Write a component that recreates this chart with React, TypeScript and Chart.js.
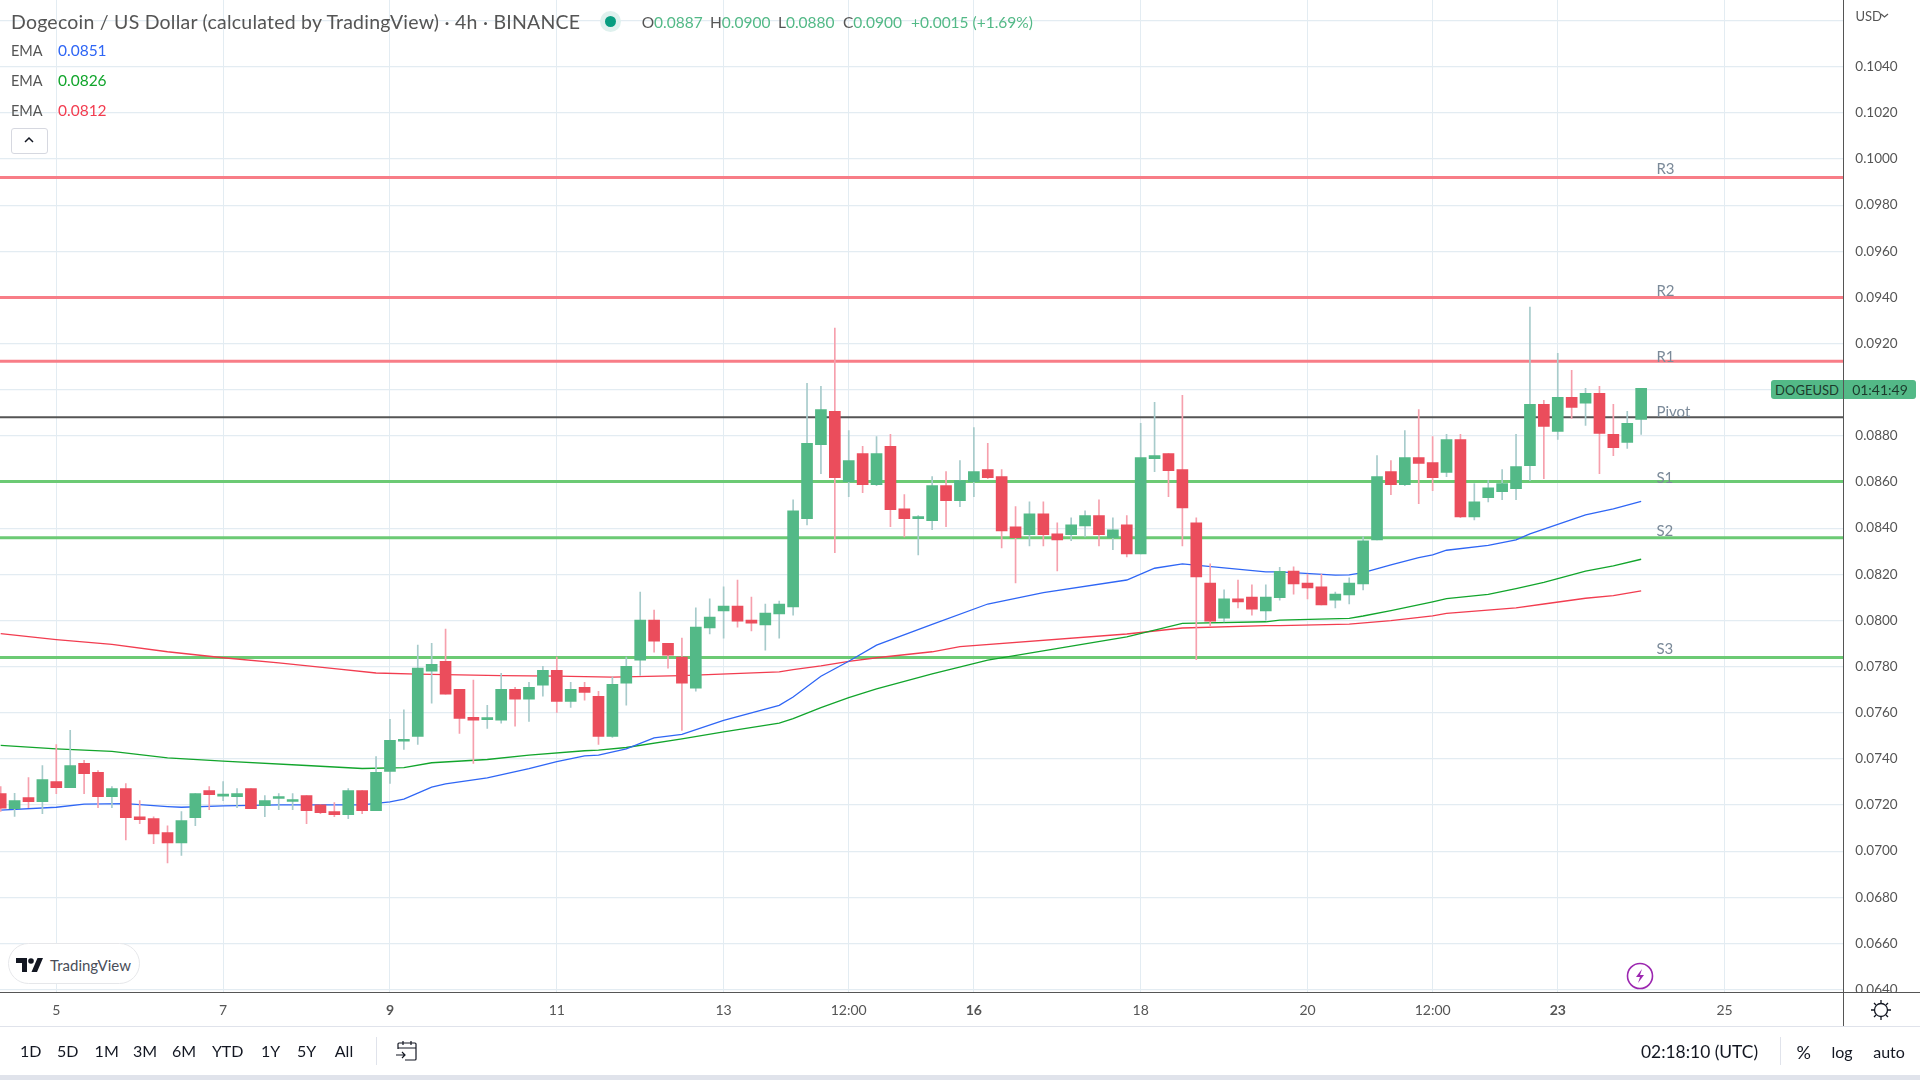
import { useEffect, useRef } from "react";
import { Chart, registerables } from "chart.js";

Chart.register(...registerables);

// 4h candles
const opens = [
  0.07249, 0.07184, 0.07232, 0.07214, 0.07301, 0.07275, 0.0738, 0.07341, 0.07236, 0.07271,
  0.07149, 0.07141, 0.0708, 0.07036, 0.07145, 0.07262, 0.07238, 0.07236, 0.07271, 0.07197,
  0.07228, 0.07215, 0.07241, 0.07201, 0.07171, 0.07158, 0.07262, 0.07175, 0.07345, 0.07476,
  0.07497, 0.0778, 0.07823, 0.07701, 0.0758, 0.0757, 0.07567, 0.07701, 0.07658, 0.07719,
  0.07784, 0.07649, 0.0771, 0.07671, 0.07497, 0.07728, 0.07828, 0.08001, 0.07901, 0.07841,
  0.07706, 0.07967, 0.08041, 0.08062, 0.08001, 0.0798, 0.08028, 0.08058, 0.08441, 0.08762,
  0.08906, 0.08601, 0.08723, 0.08588, 0.08754, 0.08484, 0.08441, 0.08432, 0.08584, 0.08519,
  0.08601, 0.08654, 0.08623, 0.08406, 0.08371, 0.08462, 0.08375, 0.08371, 0.0841, 0.08454,
  0.08358, 0.08414, 0.08288, 0.08701, 0.08723, 0.08654, 0.08423, 0.08162, 0.0801, 0.08093,
  0.08101, 0.08041, 0.08099, 0.08214, 0.08162, 0.08145, 0.08088, 0.0811, 0.08158, 0.08349,
  0.08645, 0.08588, 0.08706, 0.08684, 0.08641, 0.08784, 0.08449, 0.08532, 0.08558, 0.08571,
  0.08671, 0.08936, 0.08819, 0.08967, 0.08941, 0.08984, 0.08806, 0.08771, 0.08871,
];
const highs = [
  0.0728, 0.0725, 0.07319, 0.07371, 0.07462, 0.07523, 0.07393, 0.07349, 0.0728, 0.07293,
  0.07219, 0.07149, 0.0711, 0.07171, 0.07249, 0.0728, 0.07301, 0.07271, 0.07271, 0.07241,
  0.07249, 0.07249, 0.07241, 0.07201, 0.0721, 0.07271, 0.07262, 0.0741, 0.07571, 0.07612,
  0.07893, 0.07901, 0.07962, 0.07701, 0.07741, 0.07632, 0.07771, 0.0771, 0.07732, 0.07801,
  0.07841, 0.07732, 0.07732, 0.07693, 0.07754, 0.07841, 0.08123, 0.08045, 0.07901, 0.07923,
  0.08054, 0.08093, 0.08145, 0.08175, 0.08101, 0.08071, 0.08084, 0.08523, 0.09028, 0.09014,
  0.09267, 0.08823, 0.08754, 0.08797, 0.08806, 0.08545, 0.08454, 0.08623, 0.08645, 0.08693,
  0.08836, 0.08767, 0.08654, 0.08493, 0.08514, 0.08514, 0.08423, 0.08445, 0.08475, 0.08523,
  0.08445, 0.08454, 0.08854, 0.08945, 0.08723, 0.08975, 0.08445, 0.08245, 0.08132, 0.08175,
  0.08154, 0.08154, 0.0823, 0.08232, 0.08201, 0.08201, 0.08123, 0.08184, 0.08362, 0.08714,
  0.08693, 0.08823, 0.08914, 0.08797, 0.08806, 0.08806, 0.08593, 0.08606, 0.08654, 0.08806,
  0.09358, 0.08954, 0.09158, 0.09084, 0.09006, 0.09014, 0.08936, 0.08906, 0.09006,
];
const lows = [
  0.07172, 0.0715, 0.07188, 0.07162, 0.07249, 0.07275, 0.07249, 0.07188, 0.07188, 0.07049,
  0.07119, 0.07032, 0.06949, 0.06981, 0.0711, 0.0718, 0.07219, 0.07188, 0.07184, 0.07149,
  0.0718, 0.0718, 0.07119, 0.07162, 0.07149, 0.07141, 0.07162, 0.07175, 0.07293, 0.07441,
  0.07462, 0.07641, 0.0768, 0.0751, 0.0738, 0.07532, 0.07554, 0.07541, 0.07562, 0.07671,
  0.07601, 0.07623, 0.07654, 0.07462, 0.07493, 0.07632, 0.07762, 0.07862, 0.07793, 0.07523,
  0.07693, 0.07941, 0.07923, 0.07971, 0.07954, 0.07871, 0.07923, 0.08023, 0.08414, 0.08636,
  0.08293, 0.08536, 0.08554, 0.08584, 0.08406, 0.08362, 0.08284, 0.08393, 0.08406, 0.08493,
  0.08536, 0.08614, 0.08314, 0.08162, 0.08323, 0.08323, 0.08214, 0.08345, 0.08362, 0.08323,
  0.08306, 0.08275, 0.08288, 0.08645, 0.08536, 0.08323, 0.0783, 0.07975, 0.07993, 0.08054,
  0.08023, 0.08001, 0.08088, 0.08114, 0.08093, 0.08067, 0.08054, 0.08071, 0.08132, 0.08349,
  0.08545, 0.08584, 0.08506, 0.08562, 0.08623, 0.08445, 0.08436, 0.08514, 0.08523, 0.08523,
  0.08606, 0.08614, 0.08784, 0.08875, 0.08845, 0.08636, 0.08714, 0.08745, 0.08806,
];
const closes = [
  0.07186, 0.07219, 0.07214, 0.0731, 0.07275, 0.07371, 0.07336, 0.07236, 0.07271, 0.07145,
  0.07136, 0.07075, 0.07036, 0.07132, 0.07249, 0.07245, 0.07241, 0.07249, 0.07184, 0.07219,
  0.07231, 0.07218, 0.07175, 0.07167, 0.07158, 0.07262, 0.07175, 0.07341, 0.0748, 0.07478,
  0.07793, 0.0781, 0.0768, 0.07575, 0.07567, 0.07572, 0.07701, 0.07658, 0.0771, 0.07784,
  0.07649, 0.07701, 0.07688, 0.07497, 0.07723, 0.07801, 0.08001, 0.0791, 0.07849, 0.07728,
  0.07971, 0.08014, 0.08062, 0.07997, 0.07988, 0.08032, 0.08071, 0.08475, 0.08767, 0.08914,
  0.08619, 0.08693, 0.08588, 0.08723, 0.0848, 0.08441, 0.08444, 0.08584, 0.08519, 0.08606,
  0.08645, 0.08619, 0.08388, 0.08358, 0.08462, 0.08371, 0.08349, 0.08414, 0.08454, 0.08371,
  0.08393, 0.08288, 0.08706, 0.08714, 0.08649, 0.08488, 0.08188, 0.07997, 0.08093, 0.0808,
  0.08049, 0.08101, 0.08213, 0.08158, 0.08141, 0.08067, 0.08114, 0.08162, 0.08345, 0.08623,
  0.08588, 0.08706, 0.0868, 0.08619, 0.08784, 0.08449, 0.08514, 0.08575, 0.08593, 0.08667,
  0.08936, 0.08841, 0.08967, 0.08923, 0.08984, 0.0881, 0.08749, 0.08854, 0.09006,
];

// EMA readings, taken at the candles listed next to them
const blueAt = [0, 4, 6, 9, 12, 13, 16, 20, 26, 28, 29, 31, 32, 35, 38, 40, 42, 43, 45, 47, 49, 52, 56, 57, 59, 61, 63, 67, 71, 75, 81, 83, 85, 91, 92, 96, 97, 98, 100, 102, 103, 104, 107, 109, 110, 111, 114, 116, 118];
const blueEma = [0.07178, 0.0719, 0.07204, 0.07206, 0.07193, 0.0719, 0.07196, 0.072, 0.072, 0.07213, 0.07225, 0.07277, 0.07291, 0.07317, 0.07357, 0.07388, 0.07413, 0.07416, 0.07443, 0.07491, 0.07506, 0.07567, 0.07632, 0.07668, 0.07758, 0.07823, 0.07893, 0.07983, 0.08071, 0.0812, 0.08175, 0.08226, 0.08245, 0.0821, 0.0821, 0.08196, 0.08197, 0.08207, 0.08241, 0.08272, 0.08284, 0.08304, 0.08325, 0.08349, 0.08375, 0.08396, 0.08457, 0.08483, 0.08516];
const greenAt = [0, 4, 8, 12, 16, 22, 26, 29, 31, 35, 38, 42, 43, 45, 49, 52, 56, 57, 59, 61, 63, 67, 71, 81, 85, 91, 92, 97, 98, 100, 103, 104, 107, 109, 111, 114, 116, 118];
const greenEma = [0.07458, 0.07443, 0.07432, 0.07404, 0.0739, 0.07371, 0.07358, 0.07362, 0.07383, 0.07397, 0.07416, 0.07435, 0.07438, 0.07449, 0.07486, 0.07517, 0.07555, 0.07574, 0.07622, 0.07665, 0.07703, 0.07768, 0.07828, 0.07929, 0.07987, 0.07994, 0.08001, 0.08009, 0.08019, 0.08042, 0.0808, 0.08094, 0.08113, 0.08138, 0.08165, 0.08214, 0.08236, 0.08265];
const redAt = [0, 4, 8, 12, 16, 20, 24, 27, 30, 36, 40, 44, 49, 56, 57, 59, 61, 63, 67, 69, 81, 85, 91, 92, 97, 100, 103, 104, 109, 111, 114, 116, 118];
const redEma = [0.07943, 0.07917, 0.07896, 0.07864, 0.07838, 0.07816, 0.07791, 0.07772, 0.07767, 0.07761, 0.07758, 0.07754, 0.07761, 0.07777, 0.07787, 0.07803, 0.07822, 0.07838, 0.07864, 0.07886, 0.07941, 0.07967, 0.07977, 0.07977, 0.07984, 0.07999, 0.0802, 0.0803, 0.08054, 0.08071, 0.08096, 0.08107, 0.08128];

const levelNames = ["R3", "R2", "R1", "Pivot", "S1", "S2", "S3"];
const levelPrices = [0.0992, 0.094, 0.09123, 0.08881, 0.08602, 0.08358, 0.07839];
const levelColors = ["#f87d87", "#f87d87", "#f87d87", "#555555", "#6cca74", "#6cca74", "#6cca74"];
const levelWidths = [3, 3, 3, 2, 3, 3, 3];
const levelLabelLift = [8, 6.5, 4.5, 5, 3.7, 6.5, 8];

const priceTicks = [0.064, 0.066, 0.068, 0.07, 0.072, 0.074, 0.076, 0.078, 0.08, 0.082, 0.084, 0.086, 0.088, 0.09, 0.092, 0.094, 0.096, 0.098, 0.1, 0.102, 0.104, 0.106];
const timeTickAt = [4, 16, 28, 40, 52, 61, 70, 82, 94, 103, 112, 124];
const timeTickLabels = ["5", "7", "9", "11", "13", "12:00", "16", "18", "20", "12:00", "23", "25"];
const boldTicks = ["9", "16", "23"];

const rangeButtons = ["1D", "5D", "1M", "3M", "6M", "YTD", "1Y", "5Y", "All"];
const rangeCenters = [30.7, 67.7, 106.7, 145, 184, 227.7, 270.7, 306.7, 344];

const FONT = "Lato, sans-serif";
const UP = "#53b987";
const DOWN = "#eb4d5c";

const levelLabels = {
  id: "levelLabels",
  afterDatasetsDraw(chart: any) {
    const { ctx, scales } = chart;
    ctx.save();
    ctx.font = `15px ${FONT}`;
    ctx.fillStyle = "#7b8a99";
    ctx.textBaseline = "middle";
    levelNames.forEach((name, i) => {
      ctx.fillText(name, scales.x.getPixelForValue(119.1), scales.y.getPixelForValue(levelPrices[i]) - levelLabelLift[i]);
    });
    ctx.restore();
  },
};

function Txt({ x, y, color = "#555", size = 15, center = false, spacing = 0, children }: any) {
  return (
    <div
      style={{
        position: "absolute",
        left: x,
        top: y,
        transform: center ? "translate(-50%, -50%)" : "translateY(-50%)",
        color,
        fontSize: size,
        letterSpacing: spacing,
        whiteSpace: "nowrap",
        lineHeight: 1,
      }}
    >
      {children}
    </div>
  );
}

function Box({ x, y, w, h, style }: any) {
  return <div style={{ position: "absolute", left: x, top: y, width: w, height: h, ...style }} />;
}

export default function App() {
  const canvasRef = useRef<HTMLCanvasElement>(null);

  useEffect(() => {
    if (!canvasRef.current) return;
    const up = opens.map((o, i) => closes[i] >= o);
    const chart = new Chart(canvasRef.current, {
      type: "line",
      data: {
        datasets: [
          {
            type: "bar",
            data: opens.map((o, i) => ({ x: i, y: [o, closes[i]] })),
            backgroundColor: up.map((u) => (u ? UP : DOWN)),
            barThickness: 11,
            minBarLength: 2,
            grouped: false,
            order: 1,
          },
          {
            type: "bar",
            data: lows.map((l, i) => ({ x: i, y: [l, highs[i]] })),
            backgroundColor: up.map((u) => (u ? "#a7cbcb" : "#f6a0ad")),
            barThickness: 1,
            grouped: false,
            order: 2,
          },
          ...[
            { at: blueAt, values: blueEma, color: "#2f66f5" },
            { at: greenAt, values: greenEma, color: "#12a52c" },
            { at: redAt, values: redEma, color: "#f23d50" },
          ].map((s) => ({
            type: "line",
            data: s.at.map((x, i) => ({ x, y: s.values[i] })),
            borderColor: s.color,
            borderWidth: 1.3,
            pointRadius: 0,
            tension: 0,
            order: 3,
          })),
          ...levelPrices.map((p, i) => ({
            type: "line",
            data: [
              { x: -0.05, y: p },
              { x: 132.54, y: p },
            ],
            borderColor: levelColors[i],
            borderWidth: levelWidths[i],
            pointRadius: 0,
            order: 4,
          })),
        ] as any,
      },
      options: {
        responsive: false,
        animation: false,
        events: [],
        layout: { autoPadding: false, padding: { bottom: 54 } },
        plugins: { legend: { display: false }, tooltip: { enabled: false } },
        scales: {
          x: {
            type: "linear",
            min: -0.05,
            max: 132.54,
            offset: false,
            afterBuildTicks: (scale: any) => {
              scale.ticks = timeTickAt.map((value) => ({ value }));
            },
            afterFit: (scale: any) => {
              scale.height = 33.7;
              scale.paddingLeft = scale.paddingRight = 0;
            },
            grid: { color: "#e3ecf2", lineWidth: 1, drawTicks: false, offset: false },
            border: { display: false },
            ticks: {
              autoSkip: false,
              maxRotation: 0,
              padding: 10,
              color: "#555555",
              font: (ctx: any) => {
                const label = timeTickLabels[timeTickAt.indexOf(ctx.tick?.value)];
                return { family: FONT, size: 14, weight: boldTicks.includes(label) ? 700 : 400 };
              },
              callback: (value: any) => timeTickLabels[timeTickAt.indexOf(value)],
            },
          },
          y: {
            position: "right",
            min: 0.06388,
            max: 0.10689,
            afterBuildTicks: (scale: any) => {
              scale.ticks = priceTicks.map((value) => ({ value }));
            },
            afterFit: (scale: any) => {
              scale.width = 76.7;
              scale.paddingTop = scale.paddingBottom = 0;
            },
            grid: { color: "#e3ecf2", lineWidth: 1.2, drawTicks: false },
            border: { display: false },
            ticks: {
              padding: 12,
              color: "#555555",
              font: { family: FONT, size: 13.5 },
              callback: (value: any) => (value > 0.105 ? "" : Number(value).toFixed(4)),
            },
          },
        },
      },
      plugins: [levelLabels],
    });
    return () => chart.destroy();
  }, []);

  const ohlcLetters = [
    { x: 641.7, letter: "O", value: "0.0887" },
    { x: 710, letter: "H", value: "0.0900" },
    { x: 778, letter: "L", value: "0.0880" },
    { x: 843, letter: "C", value: "0.0900" },
  ];
  const emaRows = [
    { y: 51, value: "0.0851", color: "#2f66f5" },
    { y: 81, value: "0.0826", color: "#12a52c" },
    { y: 110.7, value: "0.0812", color: "#f23d50" },
  ];

  return (
    <div style={{ position: "fixed", left: 0, top: 0, width: 1920, height: 1080, overflow: "hidden", background: "#fff", fontFamily: FONT }}>
      <canvas ref={canvasRef} width={1920} height={1080} style={{ display: "block", position: "absolute", left: 0, top: 0 }} />

      {/* axis lines and the corner over the bottom price tick */}
      <Box x={1844} y={993} w={76} h={33} style={{ background: "#fff" }} />
      <Box x={0} y={992} w={1920} h={1.3} style={{ background: "#555" }} />
      <Box x={1843} y={0} w={1.3} h={1026} style={{ background: "#555" }} />
      <Box x={0} y={1026} w={1920} h={1} style={{ background: "#e0e3eb" }} />
      <Box x={0} y={1075} w={1920} h={5} style={{ background: "#e0e3eb" }} />

      {/* header */}
      <Txt x={11} y={21.5} size={19.5} spacing={0.23}>
        Dogecoin / US Dollar (calculated by TradingView) · 4h · BINANCE
      </Txt>
      <Box x={600} y={11} w={21} h={21} style={{ borderRadius: "50%", background: "#dff1ee" }} />
      <Box x={605} y={16} w={11} h={11} style={{ borderRadius: "50%", background: "#089d80" }} />
      {ohlcLetters.map((o) => (
        <Txt key={o.letter} x={o.x} y={22.5} size={15.5}>
          {o.letter}
          <span style={{ color: UP }}>{o.value}</span>
        </Txt>
      ))}
      <Txt x={911} y={22.5} size={15.5} color={UP}>
        +0.0015 (+1.69%)
      </Txt>
      {emaRows.map((r) => (
        <div key={r.y}>
          <Txt x={11} y={r.y} size={14.5}>EMA</Txt>
          <Txt x={58} y={r.y} size={15.5} color={r.color}>{r.value}</Txt>
        </div>
      ))}
      <Box x={11} y={128} w={35} h={24} style={{ border: "1px solid #d6d8e0", borderRadius: 3, background: "#fff" }} />
      <svg style={{ position: "absolute", left: 23, top: 136 }} width={12} height={8} viewBox="0 0 12 8">
        <path d="M2 6 L6 2 L10 6" fill="none" stroke="#131722" strokeWidth={1.5} />
      </svg>

      {/* price axis extras */}
      <Txt x={1855.5} y={16} size={13}>USD</Txt>
      <svg style={{ position: "absolute", left: 1880, top: 12 }} width={9} height={7} viewBox="0 0 9 7">
        <path d="M1 2 L4.5 5 L8 2" fill="none" stroke="#555" strokeWidth={1.2} />
      </svg>
      <Box x={1771} y={380} w={72} h={19} style={{ background: UP, borderRadius: "3px 0 0 3px" }} />
      <Box x={1844.3} y={380} w={71.7} h={19} style={{ background: UP, borderRadius: "0 3px 3px 0" }} />
      <Txt x={1807} y={389.5} size={13} center color="#1c3a2c">DOGEUSD</Txt>
      <Txt x={1880} y={389.5} size={14} center color="#1c3a2c">01:41:49</Txt>

      {/* TradingView badge */}
      <Box x={8} y={943} w={132} h={41} style={{ border: "1px solid #e6e7ea", borderRadius: 21, background: "#fff", boxSizing: "border-box" }} />
      <svg style={{ position: "absolute", left: 16, top: 958 }} width={27} height={14} viewBox="0 0 27 14">
        <path d="M0 0 H11 V14 H6 V5 H0 Z M27 0 L21 14 H15.5 L21.5 0 Z" fill="#131722" />
        <circle cx={15} cy={3} r={2.8} fill="#131722" />
      </svg>
      <Txt x={50} y={965} size={15} color="#4a4e59">TradingView</Txt>

      {/* lightning marker */}
      <svg style={{ position: "absolute", left: 1626, top: 962 }} width={28} height={28} viewBox="0 0 28 28">
        <circle cx={14} cy={14} r={12.5} fill="#fff" stroke="#9c27b0" strokeWidth={1.6} />
        <path d="M16 7 L10 15 H14 L12 21 L18 13 H14 Z" fill="#9c27b0" />
      </svg>

      {/* settings icon */}
      <svg style={{ position: "absolute", left: 1870, top: 999 }} width={22} height={22} viewBox="0 0 22 22">
        <circle cx={11} cy={11} r={6.5} fill="none" stroke="#131722" strokeWidth={1.3} />
        <path d="M11 1 V4 M11 18 V21 M1 11 H4 M18 11 H21 M4 4 L6 6 M16 16 L18 18 M18 4 L16 6 M4 18 L6 16" stroke="#131722" strokeWidth={1.3} />
      </svg>

      {/* bottom toolbar */}
      {rangeButtons.map((b, i) => (
        <Txt key={b} x={rangeCenters[i]} y={1050.7} size={16} center color="#131722">{b}</Txt>
      ))}
      <Box x={375.5} y={1037} w={1} h={28} style={{ background: "#e0e3eb" }} />
      <svg style={{ position: "absolute", left: 395, top: 1039 }} width={24} height={24} viewBox="0 0 24 24">
        <path d="M3 10 V5 Q3 4 4 4 H20 Q21 4 21 5 V20 Q21 21 20 21 H10 M3 9 H21 M8 2 V6 M16 2 V6 M1 16 H10 M7 13 L10 16 L7 19" fill="none" stroke="#131722" strokeWidth={1.2} />
      </svg>
      <Txt x={1641} y={1051.5} size={17.4} color="#131722">02:18:10 (UTC)</Txt>
      <Box x={1779.5} y={1037} w={1} h={28} style={{ background: "#e0e3eb" }} />
      <Txt x={1803.7} y={1051.5} size={18} center color="#131722">%</Txt>
      <Txt x={1842} y={1051.5} size={16} center color="#131722">log</Txt>
      <Txt x={1889} y={1051.5} size={16} center color="#131722">auto</Txt>
    </div>
  );
}
